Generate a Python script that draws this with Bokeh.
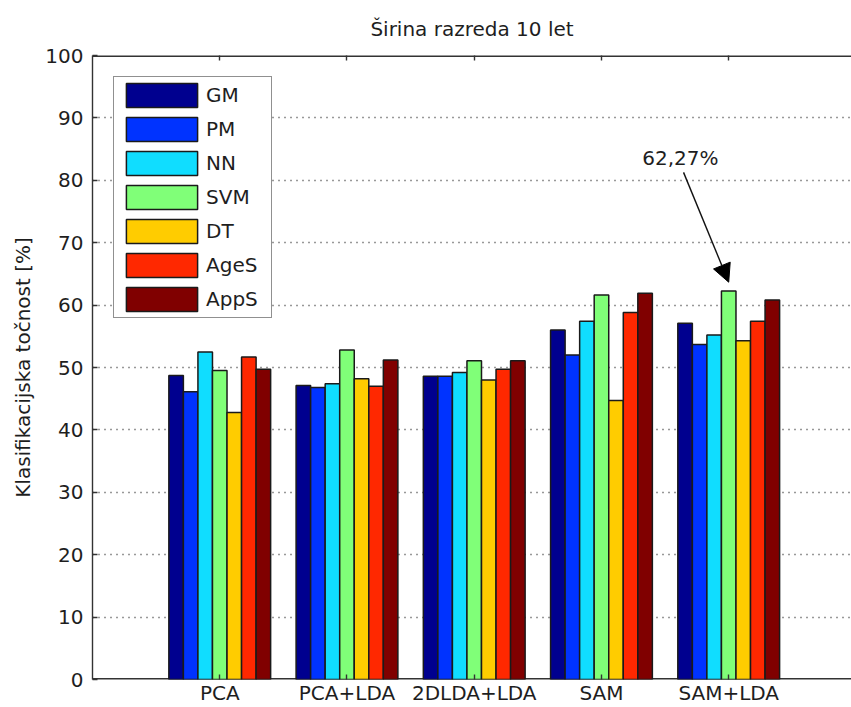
import numpy as np
from bokeh.plotting import figure
from bokeh.models import (ColumnDataSource, FixedTicker, LinearAxis, Range1d,
                          Legend, LegendItem, Arrow, NormalHead, Label)
from bokeh.embed import file_html
from bokeh.resources import INLINE

# Methods (groups on the x axis)
methods = ["PCA", "PCA+LDA", "2DLDA+LDA", "SAM", "SAM+LDA"]

# Classifier accuracies [%] per method
GM = [48.7, 47.1, 48.6, 56.0, 57.1]
PM = [46.1, 46.8, 48.6, 52.0, 53.7]
NN = [52.5, 47.4, 49.2, 57.4, 55.2]
SVM = [49.5, 52.8, 51.1, 61.6, 62.27]
DT = [42.8, 48.2, 48.0, 44.7, 54.3]
AgeS = [51.7, 47.0, 49.7, 58.8, 57.4]
AppS = [49.7, 51.2, 51.1, 61.9, 60.8]

series_names = ["GM", "PM", "NN", "SVM", "DT", "AgeS", "AppS"]
series_values = [GM, PM, NN, SVM, DT, AgeS, AppS]
colors = ["#00008F", "#0033FF", "#10DDFF", "#80FF78", "#FFCC00", "#FF2800", "#800000"]

y_ticks = list(range(0, 101, 10))

FONT = "DejaVu Sans"
FS = "20px"
TXT = "#1e1e1e"
LINE = "#333333"
X_END = 5.965
Y_MIN, Y_MAX = 0, 100

p = figure(width=851, height=707, output_backend="svg", toolbar_location=None,
           x_range=Range1d(0, X_END), y_range=Range1d(Y_MIN, Y_MAX),
           min_border_left=92, min_border_right=0, min_border_top=52,
           min_border_bottom=27, x_axis_location=None, y_axis_location=None)
p.outline_line_color = None

# title
p.title.text = "Širina razreda 10 let"
p.title.align = "center"
p.title.text_font = FONT
p.title.text_font_size = FS
p.title.text_font_style = "normal"
p.title.text_color = TXT
p.title.standoff = 29

# box lines along the bottom and top of the plotting area (half of each line
# falls inside the frame, hence the doubled width)
p.hspan(y=[Y_MIN, Y_MAX], line_color=LINE, line_width=3.2, level="underlay")

x_pos = np.arange(1, len(methods) + 1)
group_w = 0.8
bar_w = group_w / len(series_names)

renderers = []
for i, (name, vals, col) in enumerate(zip(series_names, series_values, colors)):
    offs = (i - (len(series_names) - 1) / 2) * bar_w
    src = ColumnDataSource(dict(x=x_pos + offs, top=vals))
    r = p.vbar(x="x", top="top", bottom=0, width=bar_w, source=src,
               fill_color=col, line_color="#1a1a1a", line_width=1.5)
    renderers.append((name, r))

# axes (ticks point inwards, as in a boxed plot)
common = dict(major_tick_in=5, major_tick_out=0, minor_tick_line_color=None,
              major_tick_line_color=LINE, major_tick_line_width=1.4,
              major_label_text_font=FONT, major_label_text_font_size=FS,
              major_label_text_color=TXT)

yax = LinearAxis(ticker=FixedTicker(ticks=y_ticks), major_label_standoff=9,
                 axis_line_color=LINE, axis_line_width=1.4,
                 axis_label="Klasifikacijska točnost [%]",
                 axis_label_text_font=FONT, axis_label_text_font_size=FS,
                 axis_label_text_font_style="normal",
                 axis_label_text_color=TXT, axis_label_standoff=7, **common)
p.add_layout(yax, "left")

xax = LinearAxis(ticker=FixedTicker(ticks=list(x_pos)), axis_line_color=None,
                 major_label_overrides={int(k): m for k, m in zip(x_pos, methods)},
                 major_label_standoff=1, **common)
p.add_layout(xax, "below")

top_common = dict(common)
top_common["major_label_text_font_size"] = "0px"
xtop = LinearAxis(ticker=FixedTicker(ticks=list(x_pos)), major_label_standoff=0,
                  axis_line_color=None, **top_common)
p.add_layout(xtop, "above")

# grid
p.ygrid.ticker = FixedTicker(ticks=y_ticks[1:-1])
p.ygrid.grid_line_color = LINE
p.ygrid.grid_line_dash = "1 5"
p.ygrid.grid_line_width = 1.4
p.xgrid.grid_line_color = None

# legend
legend = Legend(items=[LegendItem(label=n, renderers=[r]) for n, r in renderers],
                location=(21, 361), orientation="vertical",
                glyph_width=89, glyph_height=30, spacing=4, padding=3, margin=0,
                label_standoff=0, label_width=62, label_height=30,
                label_text_font=FONT, label_text_font_size=FS,
                label_text_color=TXT,
                border_line_color="#222222", border_line_width=1.4,
                background_fill_color="white", background_fill_alpha=1.0)
p.add_layout(legend, "center")

# annotation of the best result
best_x = x_pos[4]
best_y = SVM[4]
p.add_layout(Arrow(end=NormalHead(size=18, fill_color="black", line_color="black"),
                   x_start=best_x - 0.355, y_start=best_y + 19,
                   x_end=best_x, y_end=best_y + 1.4,
                   line_color="#111111", line_width=1.4))
p.add_layout(Label(x=best_x - 0.38, y=best_y + 21.3,
                   text=f"{best_y:.2f}%".replace(".", ","),
                   text_font=FONT, text_font_size=FS, text_color=TXT,
                   text_align="center", text_baseline="middle"))

open("out.html", "w").write(file_html(p, INLINE))
